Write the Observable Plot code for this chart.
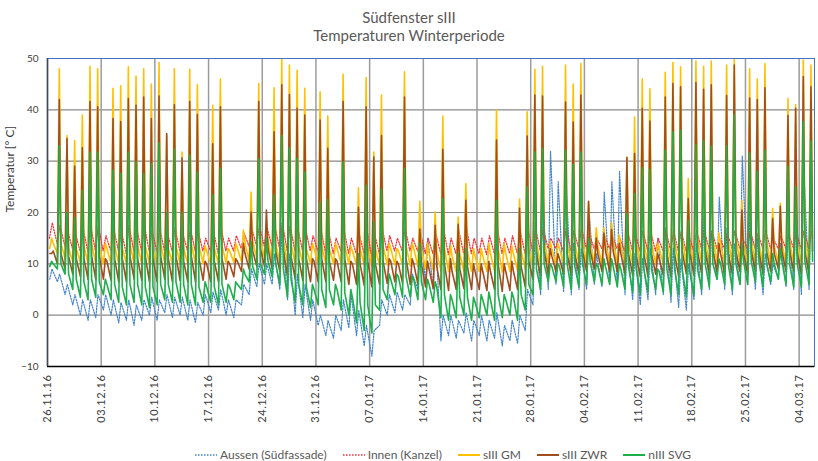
<!DOCTYPE html>
<html><head><meta charset="utf-8">
<script src="https://cdn.jsdelivr.net/npm/d3@7"></script>
<script src="https://cdn.jsdelivr.net/npm/@observablehq/plot@0.6"></script>
<style>
body{margin:0;background:#fff;width:818px;height:461px;overflow:hidden;font-family:Lato,"Open Sans",sans-serif;color:#595959}
#title{height:48px;box-sizing:border-box;padding-top:8px;text-align:center;font-size:15px;line-height:18px;color:#595959}
#chart svg{display:block}
#chart g[aria-label="x-axis tick label"] text{letter-spacing:0.6px}
#legend{display:flex;align-items:center;padding-left:195px;padding-top:5px;height:23px;box-sizing:content-box;font-size:12px;color:#595959}
#legend .it{display:flex;align-items:center;margin-right:16px}
#legend svg{margin-right:3px}
</style></head>
<body>
<div id="title">Südfenster sIII<br>Temperaturen Winterperiode</div>
<div id="chart"></div>
<div id="legend"></div>
<script>
// ---- data (one value per day, day 0 = 26.11.16) ----
const seriesNames = ["Aussen (Südfassade)", "Innen (Kanzel)", "sIII GM", "sIII ZWR", "nIII SVG"];
const xTickLabels = ["26.11.16","03.12.16","10.12.16","17.12.16","24.12.16","31.12.16","07.01.17","14.01.17","21.01.17","28.01.17","04.02.17","11.02.17","18.02.17","25.02.17","04.03.17"];
const yTicks = [-10, 0, 10, 20, 30, 40, 50];

// Aussen (Südfassade): night low / afternoon high
const aussenLow = [
 7,6.5,4,2,0,-1,-0.5,
 1,0,-1.5,-1,-2,-1,0,
 -1,0.5,-0.5,0,-1,-1.5,0,
 0.5,1,0,-0.5,2,4,5.5,
 6,6,5,3,0,-0.5,-1,
 -2,-4,-4.5,-3,-2.5,-4,-6,
 -8,-2,0,0.5,1,2,5,
 6,5,-5,-4,-4.5,-3.5,-5,
 -4,-5,-4.5,-6,-5,-5.5,-3,
 2,4,5,6,4.5,4,5,
 5,6,5.5,6,5.5,4,3,
 2,3,4,4,2.5,1.5,1,
 3,4,5,7,5,4,6,
 6,5,4,6,7,5.5,5,
 4,5];
const aussenHigh = [
 9,8,6,4,3,3,4,
 4,3,2.5,3,2,3,3.5,
 3,4,3.5,3.5,3,2.5,4,
 4.5,5,3,3,6,9,10,
 10,12,18,12,8,6,3,
 0,-1,0,3,4,1,-2,
 -3,3,4,4.5,4,8,18,
 15,16,0,0,-1,0.5,-1,
 0,-1,0.5,-2,-1,0,5,
 18,22,32,26,27,14,13,
 21,12,24,26,28,14,12,
 11,13,15,17,13,11,10,
 14,20,16,23,17,14,31,
 20,15,12,10,14,17,21,
 29,27];

// Innen (Kanzel)
const innenLow = [
 15,14,13.5,13,12.5,12.5,12.5,
 12.5,12.5,12.5,12,12.5,12.5,12.5,
 12.5,12.5,12.5,12.5,12.5,12.5,12.5,
 12.5,12,12.5,12.5,13,13.5,13.5,
 13.5,13.5,13,12.5,12.5,12.5,12.5,
 12.5,12,12,12.5,12,12,12,
 11.5,12,12.5,12.5,12.5,12.5,12.5,
 12,12,12,11.8,12,12,12,
 12,11.8,12,12,12,12,12,
 12.5,12.5,13,13,12.5,12.5,13,
 13,13,13,13,13,12.5,12.5,
 12.5,12.5,12.5,12.5,12.5,12.5,12.5,
 12.5,13,13,13,13,13,13,
 13,13,13,13,13,13,13,
 13,13];
const innenHigh = [
 18,17.5,16.5,16,17,17.5,17.5,
 15.5,17,16.5,17.5,17,17.5,16.5,
 17,16,17,16,17,16.5,15,
 16.5,17,15,15.5,16,17,17.5,
 17,17.5,18,17.5,17,17,15.5,
 17,16.5,15,17,15,16,17,
 16,17,15.5,15,17,15,16,
 15,16,17,15,16.5,17,15,
 15,15.5,17,15,15.5,16.5,17,
 17,17,15,15,17,16.5,17,
 16,15,15.5,15.5,15,16.5,16,
 16.5,16.5,15,16.5,16.5,16.5,15.5,
 16.5,16.5,16.5,15,16,16.5,15,
 16.5,16,16.5,15,15.5,16,16,
 16.5,16.5];

// sIII GM: morning low / midday peak / evening
const gmLow = [
 13,12,11,10.5,10.2,10,10.1,
 10,10,10,10.1,10,10,10,
 10,10.2,10,10,10,10,10.1,
 10,10,10.2,10.3,10.5,10.5,11,
 11,10.5,10.2,10,10,10,10,
 10,10,10,10,10,9.8,9.8,
 9.5,9.6,9.8,9.8,9.8,9.6,9.5,
 9,8.8,8.6,8.5,8.5,8.5,8.5,
 8.5,8.5,8.5,8.4,8.5,8.6,9,
 9.5,9.8,10,10,10,10,10,
 10,10,10,10,10,10,10,
 10,10,10,10,10,10,10,
 10,10,10,10.2,10,10,10.2,
 10,10,10,10,10.2,10,10,
 10,10];
const gmPeak = [
 15,48,35,34,39,48.5,48,
 14,44.2,44.7,48.4,46.6,48,45,
 49.2,35,48,31.8,47.9,44.9,13.5,
 40.9,46,13,14,16.6,24,45.1,
 16.5,44.3,50,48.7,47.7,44.2,14,
 43.5,38.8,14,46.9,13.5,24.8,46.3,
 31.8,42.9,14,13,47.4,14,22.2,
 14,20.1,38.8,13.6,19.1,25.6,13,
 13,14,39.9,14,13.5,22.6,39.6,
 47.9,48.5,14.3,14,48.7,45,49,
 22,17,17,18,15.6,30.8,38.6,
 46,44.1,14,47.3,49.2,48.4,26.6,
 49.5,48.5,49.5,16,48.7,50,22.4,
 48,46,49,20.8,21.8,42.2,41,
 49.7,48.7];
const gmEve = [
 14,14,13,13,13.5,14,13.5,
 13,13.5,13,14,13.5,13.5,13,
 14,13,13.5,13,14,13.5,12.5,
 13,13.5,12.5,13,14,14.5,15,
 14.5,14,14.5,14,13.5,13,13,
 13.5,13,13,13.5,12.5,13,13.5,
 13,13.5,13,12.5,13.5,13,13,
 12,12.5,13,11.5,12,12.5,11.5,
 11.5,12,13,12,12,12.5,13,
 14,14.5,13,13,14,14,14.5,
 14,13.5,14,14.5,13.5,14,14,
 14,14,13,14.5,14.5,15,14,
 15,14.5,15,14,14.5,15,14,
 14.5,14,14.5,13.5,14,14.5,14,
 15,15];

// sIII ZWR
const zwrLow = [
 12,10,9,8,7.5,7,7,
 7,6.8,6.5,6.5,7,6.8,6.5,
 6.5,7,6.5,6.8,6.5,6.5,6.8,
 6.5,6.5,7,7.5,8.5,9,9.5,
 9.5,9,8.5,7.5,7,6.8,6.5,
 6.5,6.5,6.8,6.5,6,6,5.8,
 5.5,6,6.2,6.5,6.2,6,6,
 5.5,5.2,5,4.8,5,5.2,5,
 5,4.8,5,4.6,4.8,5,5.5,
 7,7.5,8,8.5,8,7.8,8,
 8.5,9,8.5,8.5,8.5,8,7.8,
 7.5,7.5,8,7.8,7.5,7.5,8,
 7.8,8,8,8.5,8,8,8.5,
 8,8.5,8,8.5,9,8.5,8.5,
 8,8];
const zwrPeak = [
 12,42,34.4,29,32.6,41.6,40.6,
 11,38.3,37.7,42.2,40.9,42.5,38.3,
 42.7,35.4,41,30.6,41.6,39.1,10.5,
 33.4,40.6,10.5,11,14,20.1,41.6,
 20.5,35.7,44.9,43,40.3,39,11,
 38,32.5,11,41.6,10.5,21,40.6,
 30.8,35,11,10.5,42.5,11,16.8,
 10.5,17.5,32.3,11,17.7,22.4,10,
 10,10.5,34.1,10,10.5,20.8,34.9,
 42.9,42.7,13,12,41.5,37.6,42.9,
 22.2,15,16,16.7,14,30.7,31.5,
 40.3,37.8,12,42.5,45.1,44.5,22.7,
 45.3,44,44.9,14,42.8,48.7,20.5,
 42.3,42,44.3,18.8,21.2,38.9,40.3,
 46.5,44.5];
const zwrEve = [
 12.5,12,11.5,11,11,11.5,11.5,
 10.5,11,11,11.5,11,11.5,11,
 11.5,11,11.5,10.5,11.5,11,10,
 10.5,11,10,10.5,12,12.5,13,
 13,12.5,12.5,11.5,11,11,10.5,
 11,10.5,10.5,11,10,10,10.5,
 10,10.5,10.5,10,11,10,10,
 9,9.5,10,8.5,9,9.5,8.5,
 8.5,8.5,10,8.5,8.5,9.5,10.5,
 12,12.5,11.5,11,12,12,12.5,
 12.5,12,12.5,12.5,12,12,11.5,
 12,12,11,12,12,12.5,12,
 12.5,12.5,12.5,12,12,12.5,12,
 12.5,12.5,12.5,12,12.5,12.5,12,
 12.5,12.5];

// nIII SVG
const svgLow = [
 9.5,9,8,5,3.5,3,3.5,
 4,3,2.5,2,2.5,2,1.5,
 2,3,2.5,2.5,2,2,2.5,
 2.5,2,2.5,3,5,6.5,7,
 8,7.5,6,3.5,2.5,2,1.5,
 2,1.5,2,1,0,-1.5,-3,
 -3.5,1,3,4,3.5,3.5,3,
 3,2.5,-0.5,-1,-0.5,0,-1,
 -0.5,0,-1,-0.5,0,-1,1,
 4,5,6.5,6.5,5.5,5,5.5,
 6,6.5,6,6,5.5,5,4.5,
 4,4.5,5,4.5,4,4,3.5,
 4,5,5.5,7,6,5,6,
 6,6.5,5.5,6.5,7,6,5.5,
 5.5,6];
const svgPeak = [
 10.5,33,20,19,24.3,31.8,31.8,
 7,28.2,27.6,31.8,29.9,27.6,29.5,
 33.6,20,32.3,20,31.2,27.9,6.5,
 23.4,28.6,6,6.5,9,14.3,30.5,
 15,23.4,35,32.6,30.5,27.9,6,
 22,22.5,6,29.9,5,12,25.3,
 18.2,24.5,8,8,28.6,7.5,14,
 7,6.5,22.7,4,12,13,3.5,
 4,4.5,22.4,4,4.5,13,25,
 31.8,32.5,10,10,32.1,29.4,31.8,
 15,10,11,11,10,19.8,23.7,
 28.7,28.4,9,32.1,35.7,36,18.5,
 33.2,33.9,32.9,11,33,39,14,
 31.6,28,32.1,12,13,29,25,
 37.7,33.9];
const svgEve = [
 10,10,8,7,6.5,7,6.5,
 6,6,5.5,6,6,5.5,5.5,
 6,6,6.5,6,6,5.5,5.5,
 5.5,6,5.5,6,8,9.5,10,
 10.5,10,9,7,6,5.5,5,
 5,5,5,4.5,3.5,2.5,2,
 2,5,7,7.5,7.5,7,6.5,
 6,5.5,4,3,3.5,3.5,2.5,
 3,3,4,3,3.5,4,6,
 9,10,9.5,9.5,10,9.5,10,
 10.5,9.5,9.5,9.5,9,9.5,9,
 9,9,8.5,9,9,9,8.5,
 9,10,10,10,10,10,10.5,
 10.5,10.5,10,10,10.5,10,10,
 10.5,10.5];

// ---- build ----
const parseLabel = s => { const [d, m, y] = s.split(".").map(Number); return new Date(Date.UTC(2000 + y, m - 1, d)); };
const tickDates = xTickLabels.map(parseLabel);
const t0 = tickDates[0].getTime();
const at = (d, h) => new Date(t0 + (d * 24 + h) * 3600e3);
const xEnd = at(100, 0);

function build(name, arrays, hours) {
  const out = [];
  for (let d = 0; d < arrays[0].length; d++)
    arrays.forEach((a, k) => out.push({s: name, t: at(d, hours[k]), v: a[d]}));
  return out;
}
const dAussen = build(seriesNames[0], [aussenLow, aussenHigh], [7, 14]);
const dInnen  = build(seriesNames[1], [innenLow, innenHigh], [6, 15]);
const dGM     = build(seriesNames[2], [gmLow, gmPeak, gmEve], [7, 13, 18]);
const dZWR    = build(seriesNames[3], [zwrLow, zwrPeak, zwrEve], [7, 13, 18]);
const dSVG    = build(seriesNames[4], [svgLow, svgPeak, svgEve], [7, 13, 18]);

const colors = ["#3f83cc", "#f0323c", "#ffc000", "#a14e1f", "#1eae4b"];
const dashes = ["1.4,1.4", "1.4,1.4", null, null, null];
const widths = [1.2, 1.2, 1.6, 1.6, 1.6];
const datasets = [dAussen, dInnen, dGM, dZWR, dSVG];

const chart = Plot.plot({
  width: 818, height: 390,
  marginTop: 10, marginLeft: 47, marginRight: 4, marginBottom: 72,
  style: {fontFamily: "Lato, 'Open Sans', sans-serif", color: "#404040", background: "#fff"},
  x: {type: "utc", domain: [tickDates[0], xEnd]},
  y: {domain: [-10, 50]},
  marks: [
    Plot.gridY(yTicks, {stroke: "#8a8a8a", strokeOpacity: 1, strokeWidth: 1.2}),
    Plot.gridX(tickDates, {stroke: "#9c9c9c", strokeOpacity: 1, strokeWidth: 1.5}),
    ...datasets.map((ds, i) => Plot.line(ds, {x: "t", y: "v", stroke: colors[i], strokeWidth: widths[i], strokeDasharray: dashes[i], clip: true})),
    Plot.frame({stroke: "#4472c4", strokeWidth: 1}),
    Plot.ruleX([tickDates[0]], {stroke: "#404a5a", strokeWidth: 1.5}),
    Plot.ruleY([-10], {stroke: "#000", strokeWidth: 1.5}),
    Plot.axisY(yTicks, {tickSize: 0, tickPadding: 9, fontSize: 10, label: null}),
    Plot.axisX(tickDates, {tickSize: 0, tickPadding: 8, tickRotate: -90, fontSize: 11, tickFormat: d3.utcFormat("%d.%m.%y"), label: null}),
    Plot.text(["Temperatur [° C]"], {frameAnchor: "left", dx: -37, rotate: -90, fontSize: 12, fill: "#404040"})
  ]
});
document.getElementById("chart").appendChild(chart);

// legend
const leg = document.getElementById("legend");
seriesNames.forEach((n, i) => {
  const it = document.createElement("div");
  it.className = "it";
  it.innerHTML = `<svg width="22" height="8"><line x1="0" y1="4" x2="22" y2="4" stroke="${colors[i]}" stroke-width="${dashes[i] ? 1.5 : 2}" ${dashes[i] ? 'stroke-dasharray="1.5,1.5"' : ''}/></svg><span>${n}</span>`;
  leg.appendChild(it);
});
</script>
</body></html>
